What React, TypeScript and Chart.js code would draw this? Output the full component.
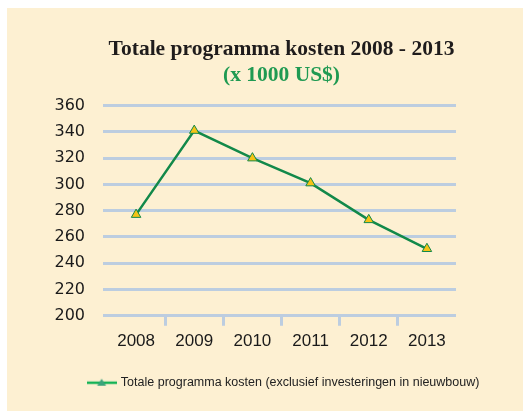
import React, { useEffect, useRef } from "react";
import { Chart, registerables } from "chart.js";

Chart.register(...registerables);

const categories = ["2008", "2009", "2010", "2011", "2012", "2013"];
const kosten = [277, 341, 320, 301, 273, 251];
const titleText = "Totale programma kosten 2008 - 2013";
const subtitleText = "(x 1000 US$)";
const seriesLabel = "Totale programma kosten (exclusief investeringen in nieuwbouw)";

const BG = "#fdf0d2";
const LINE = "#12894a";
const MARKER = "#f6c315";
const GRID = "#bccde0";

function makeLegendMarker(): HTMLCanvasElement {
  const c = document.createElement("canvas");
  c.width = 30;
  c.height = 10;
  const ctx = c.getContext("2d")!;
  ctx.strokeStyle = "#13b356";
  ctx.lineWidth = 2.5;
  ctx.beginPath();
  ctx.moveTo(0, 5);
  ctx.lineTo(30, 5);
  ctx.stroke();
  ctx.fillStyle = "#3aa37a";
  ctx.beginPath();
  ctx.moveTo(15, 1);
  ctx.lineTo(19.5, 8);
  ctx.lineTo(10.5, 8);
  ctx.closePath();
  ctx.fill();
  return c;
}

export default function App() {
  const ref = useRef<HTMLCanvasElement>(null);
  useEffect(() => {
    if (!ref.current) return;
    const marker = makeLegendMarker();
    const chart = new Chart(ref.current, {
      type: "line",
      data: {
        labels: categories,
        datasets: [
          {
            label: seriesLabel,
            data: kosten,
            borderColor: LINE,
            borderWidth: 2.5,
            backgroundColor: MARKER,
            pointStyle: "triangle",
            pointRadius: 5.5,
            pointBackgroundColor: MARKER,
            pointBorderColor: LINE,
            pointBorderWidth: 1,
            tension: 0,
            yAxisID: "y",
          },
        ],
      },
      options: {
        animation: false,
        responsive: false,
        maintainAspectRatio: false,
        layout: { padding: { top: 29, left: 38, right: 0, bottom: 12 } },
        plugins: {
          title: {
            display: true,
            text: titleText,
            fullSize: false,
            color: "#1f1c1c",
            font: { family: "Liberation Serif", size: 21.5, weight: "bold" },
            padding: { top: 0, bottom: 0 },
          },
          subtitle: {
            display: true,
            text: subtitleText,
            fullSize: false,
            color: "#1f9a52",
            font: { family: "Liberation Serif", size: 21.5, weight: "bold" },
            padding: { top: 0, bottom: 17 },
          },
          legend: {
            position: "bottom",
            labels: {
              usePointStyle: true,
              pointStyle: marker as any,
              pointStyleWidth: 26,
              color: "#222",
              font: { family: "Liberation Sans", size: 12.5 },
              padding: 10,
            },
          },
          tooltip: { enabled: false },
        },
        scales: {
          x: {
            offset: true,
            border: { display: false },
            afterFit: (s: any) => {
              s.height = 50.75;
            },
            grid: {
              offset: true,
              drawOnChartArea: false,
              drawTicks: true,
              tickLength: 10,
              lineWidth: 3,
              color: (ctx: any) =>
                ctx.type !== "tick" || ctx.index === 0 ? "rgba(0,0,0,0)" : GRID,
            },
            ticks: {
              color: "#1a1a1a",
              padding: 5,
              font: { family: "Liberation Sans", size: 17 },
            },
          },
          y: {
            min: 200,
            max: 360,
            border: { display: false },
            afterFit: (s: any) => {
              s.width = 62;
            },
            grid: {
              color: GRID,
              lineWidth: 3,
              drawTicks: true,
              tickLength: 4,
            },
            ticks: {
              stepSize: 20,
              color: "#1a1a1a",
              padding: 18,
              font: { family: "DejaVu Sans", size: 16 },
            },
          },
          yRight: {
            position: "right",
            display: true,
            border: { display: false },
            grid: { display: false },
            ticks: { display: false },
            afterFit: (s: any) => {
              s.width = 67;
            },
          },
        },
      },
    });
    return () => chart.destroy();
  }, []);
  return (
    <div style={{ position: "fixed", left: 7, top: 8, width: 516, height: 403 }}>
      <canvas
        ref={ref}
        width={516}
        height={403}
        style={{ display: "block", width: 516, height: 403, backgroundColor: BG }}
      />
    </div>
  );
}
